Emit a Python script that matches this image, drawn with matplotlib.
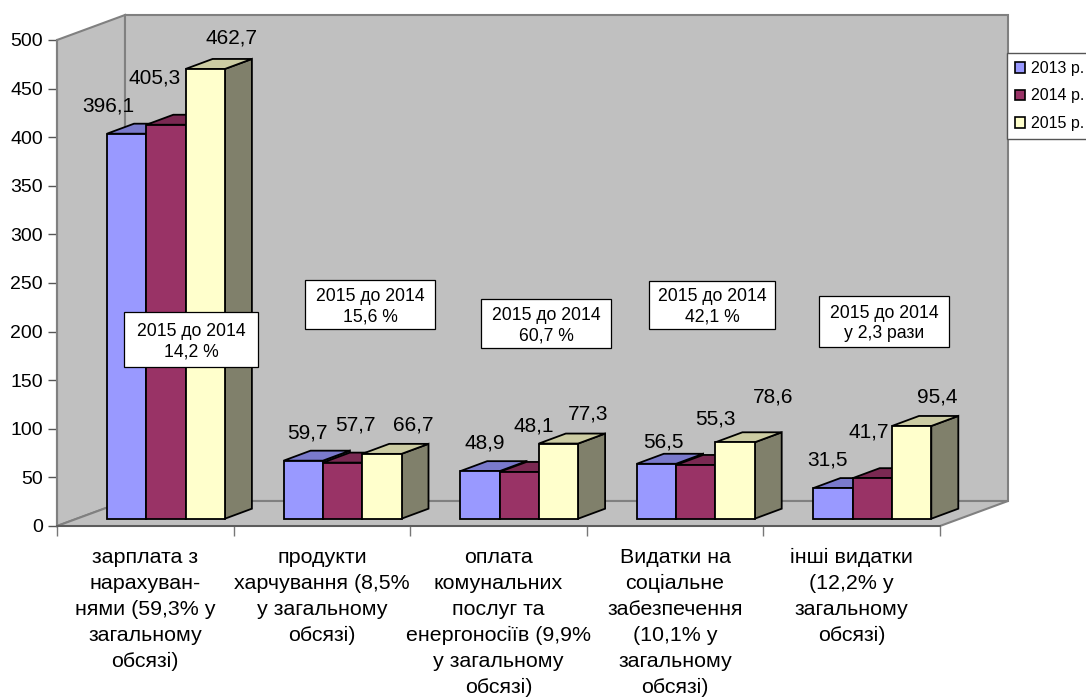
import matplotlib
matplotlib.use('Agg')
import matplotlib.pyplot as plt
from matplotlib.patches import Patch, Polygon, Rectangle

plt.rcParams['font.family'] = ['Liberation Sans', 'DejaVu Sans']

# Data
years = ['2013 р.', '2014 р.', '2015 р.']
categories = [
    'зарплата з\nнарахуван-\nнями (59,3% у\nзагальному\nобсязі)',
    'продукти\nхарчування (8,5%\nу загальному\nобсязі)',
    'оплата\nкомунальних\nпослуг та\nенергоносіїв (9,9%\nу загальному\nобсязі)',
    'Видатки на\nсоціальне\nзабезпечення\n(10,1% у\nзагальному\nобсязі)',
    'інші видатки\n(12,2% у\nзагальному\nобсязі)',
]
values_2013 = [396.1, 59.7, 48.9, 56.5, 31.5]
values_2014 = [405.3, 57.7, 48.1, 55.3, 41.7]
values_2015 = [462.7, 66.7, 77.3, 78.6, 95.4]
notes = ['2015 до 2014\n14,2 %', '2015 до 2014\n15,6 %', '2015 до 2014\n60,7 %',
         '2015 до 2014\n42,1 %', '2015 до 2014\nу 2,3 рази']

# Colours for front, top and side of every series
front_colors = ['#9999FF', '#993366', '#FFFFCC']
top_colors = ['#7A7ACC', '#7A2952', '#CCCCA3']
side_colors = ['#4D4D80', '#4D1A33', '#80806B']
wall_color = '#C0C0C0'
wall_edge = '#808080'

W, H = 1086, 698
fig = plt.figure(figsize=(W / 100, H / 100), dpi=100)
ax = fig.add_axes([57 / W, (H - 526) / H, 883 / W, 486 / H])
ax.set_xlim(0, 5)
ax.set_ylim(0, 500)


def px_x(p):
    # pixel width to category units
    return p / 176.6


def px_y(p):
    # pixel height to value units
    return p / 0.972


# Walls and floor
wall_dx = px_x(68)
wall_dy = px_y(25)
walls = [
    [(0, 0), (0, 500), (wall_dx, 500 + wall_dy), (wall_dx, wall_dy)],
    [(wall_dx, wall_dy), (wall_dx, 500 + wall_dy), (5 + wall_dx, 500 + wall_dy), (5 + wall_dx, wall_dy)],
    [(0, 0), (5, 0), (5 + wall_dx, wall_dy), (wall_dx, wall_dy)],
]
for w in walls:
    ax.add_patch(Polygon(w, closed=True, fc=wall_color, ec=wall_edge, lw=1.5, clip_on=False, zorder=1))

# 3D bars, left to right
bar_w = px_x(39.3)
bar_start = px_x(50)
bar_dx = px_x(27)
bar_dy = px_y(10)
base = px_y(7.3)
z = 3
for i in range(len(categories)):
    for j, vals in enumerate([values_2013, values_2014, values_2015]):
        x0 = i + bar_start + j * bar_w
        x1 = x0 + bar_w
        y0 = base
        y1 = base + vals[i]
        side = [(x1, y0), (x1, y1), (x1 + bar_dx, y1 + bar_dy), (x1 + bar_dx, y0 + bar_dy)]
        top = [(x0, y1), (x1, y1), (x1 + bar_dx, y1 + bar_dy), (x0 + bar_dx, y1 + bar_dy)]
        front = [(x0, y0), (x1, y0), (x1, y1), (x0, y1)]
        for poly, col in [(side, side_colors[j]), (top, top_colors[j]), (front, front_colors[j])]:
            ax.add_patch(Polygon(poly, closed=True, fc=col, ec='black', lw=1.3, joinstyle='miter',
                                 clip_on=False, zorder=z))
        z += 1

# Axes
for s in ['top', 'right']:
    ax.spines[s].set_visible(False)
ax.patch.set_visible(False)
ax.spines['left'].set_color(wall_edge)
ax.spines['left'].set_linewidth(1.5)
ax.spines['left'].set_zorder(2)
ax.spines['bottom'].set_color('#555555')
ax.spines['bottom'].set_linewidth(1.2)
ax.spines['bottom'].set_zorder(2)
ax.set_yticks(range(0, 501, 50))
ax.tick_params(axis='y', length=6.5, width=1, color='#555555', labelsize=14, pad=3.5)
ax.set_xticks(range(0, 6))
ax.set_xticklabels([])
ax.tick_params(axis='x', which='major', length=7.5, width=1, color='#777777')
ax.set_xticks([i + 0.5 for i in range(5)], minor=True)
ax.set_xticklabels(categories, minor=True, fontsize=15.4, linespacing=1.47, ha='center')
ax.tick_params(axis='x', which='minor', length=0, pad=15.5)

# Value labels, pixel centres
label_pos = [
    [(108, 106), (155, 78), (231, 38)],
    [(307, 433), (355, 425), (413, 425)],
    [(485, 443), (534, 426), (588, 414)],
    [(663, 442), (715, 419), (773, 397)],
    [(827, 460), (869, 432), (937, 397)],
]
for i in range(len(categories)):
    for j, vals in enumerate([values_2013, values_2014, values_2015]):
        px, py = label_pos[i][j]
        fig.text(px / W, 1 - py / H, f'{vals[i]:.1f}'.replace('.', ','), fontsize=15,
                 ha='center', va='center', zorder=50)

# Note boxes
note_boxes = [(124, 312, 258, 367), (305, 280, 435, 329), (481, 299, 611, 348),
              (649, 281, 775, 329), (819, 296, 949, 347)]
for (l, t, r, b), note in zip(note_boxes, notes):
    fig.add_artist(Rectangle((l / W, 1 - b / H), (r - l) / W, (b - t) / H, transform=fig.transFigure,
                             fc='white', ec='black', lw=0.9, zorder=40))
    fig.text((l + r) / 2 / W, 1 - ((t + b) / 2 + 2) / H, note, fontsize=12.7, ha='center', va='center',
             linespacing=1.25, zorder=41)

# Legend runs over the right edge like in the source
handles = [Patch(fc=front_colors[k], ec='black', lw=1.2, label=years[k]) for k in range(3)]
leg = ax.legend(handles=handles, loc='upper left', bbox_to_anchor=(1007 / W, 1 - 53 / H),
                bbox_transform=fig.transFigure, fontsize=11.5, fancybox=False, edgecolor='#555555',
                framealpha=1, handlelength=0.65, handleheight=0.65, handletextpad=0.35,
                labelspacing=0.78, borderpad=0.5, borderaxespad=0)
leg.set_zorder(60)
leg.get_frame().set_linewidth(1)

fig.savefig('out.png', dpi=100, facecolor='white')
plt.close(fig)
